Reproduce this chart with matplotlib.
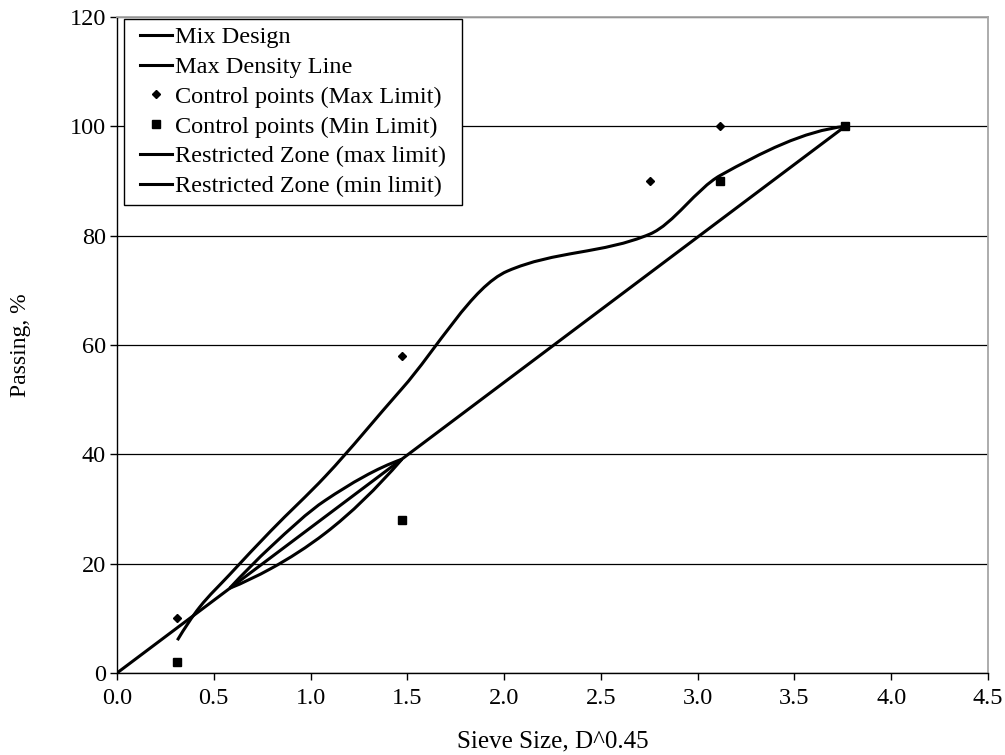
import numpy as np
import matplotlib
matplotlib.use("Agg")
import matplotlib.pyplot as plt
from matplotlib.path import Path
from matplotlib.patches import PathPatch
from matplotlib.lines import Line2D

# ---- data (sieve size raised to 0.45 power vs. percent passing) ----
mix_x = [0.312, 0.426, 0.582, 0.795, 1.077, 1.472, 2.016, 2.754, 3.116, 3.762]
mix_y = [6.0, 12.0, 18.0, 26.0, 36.0, 52.0, 73.5, 80.3, 91.0, 100.0]

mdl_x = [0.0, 3.762]
mdl_y = [0.0, 100.0]

cp_max_x = [0.312, 1.472, 2.754, 3.116]
cp_max_y = [10.0, 58.0, 90.0, 100.0]

cp_min_x = [0.312, 1.472, 3.116, 3.762]
cp_min_y = [2.0, 28.0, 90.0, 100.0]

rz_x = [0.582, 0.795, 1.077, 1.472]
rz_max_y = [15.5, 23.1, 31.6, 39.1]
rz_min_y = [15.5, 19.1, 25.6, 39.1]

x_ticks = [0.0, 0.5, 1.0, 1.5, 2.0, 2.5, 3.0, 3.5, 4.0, 4.5]
y_ticks = [0, 20, 40, 60, 80, 100, 120]

plt.rcParams["font.family"] = ["Liberation Serif", "DejaVu Serif"]


def pchip_slopes(x, y):
    x = np.asarray(x, float)
    y = np.asarray(y, float)
    h = np.diff(x)
    d = np.diff(y) / h
    n = len(x)
    m = np.zeros(n)
    if n == 2:
        m[:] = d[0]
        return m
    for k in range(1, n - 1):
        if d[k - 1] * d[k] <= 0:
            m[k] = 0.0
        else:
            w1 = 2 * h[k] + h[k - 1]
            w2 = h[k] + 2 * h[k - 1]
            m[k] = (w1 + w2) / (w1 / d[k - 1] + w2 / d[k])

    def end(h0, h1, d0, d1):
        s = ((2 * h0 + h1) * d0 - h0 * d1) / (h0 + h1)
        if np.sign(s) != np.sign(d0):
            s = 0.0
        elif np.sign(d0) != np.sign(d1) and abs(s) > abs(3 * d0):
            s = 3 * d0
        return s

    m[0] = end(h[0], h[1], d[0], d[1])
    m[-1] = end(h[-1], h[-2], d[-1], d[-2])
    return m


def smooth_path(x, y):
    m = pchip_slopes(x, y)
    verts = [(x[0], y[0])]
    codes = [Path.MOVETO]
    for i in range(len(x) - 1):
        h = x[i + 1] - x[i]
        verts += [(x[i] + h / 3, y[i] + m[i] * h / 3),
                  (x[i + 1] - h / 3, y[i + 1] - m[i + 1] * h / 3),
                  (x[i + 1], y[i + 1])]
        codes += [Path.CURVE4] * 3
    return Path(verts, codes)


def wide_box(x0, y0, width, height, mutation_size):
    # square legend frame with extra horizontal padding
    padx = 0.37 * mutation_size
    x0, x1 = x0 - padx, x0 + width + padx
    y1 = y0 + height
    return Path([(x0, y0), (x1, y0), (x1, y1), (x0, y1), (x0, y0)],
                closed=True)


fig = plt.figure(figsize=(10.05, 7.55), dpi=100)
ax = fig.add_axes([0.1164, 0.1086, 0.8667, 0.8689])

LW = 2.2
for xs, ys in [(mix_x, mix_y), (rz_x, rz_max_y), (rz_x, rz_min_y)]:
    ax.add_patch(PathPatch(smooth_path(xs, ys), facecolor="none",
                           edgecolor="black", lw=LW, zorder=3))
ax.plot(mdl_x, mdl_y, color="black", lw=LW, zorder=3)
ax.plot(cp_max_x, cp_max_y, linestyle="none", marker="D", ms=4.2,
        color="black", zorder=4)
ax.plot(cp_min_x, cp_min_y, linestyle="none", marker="s", ms=6,
        color="black", zorder=4)

ax.set_xlim(0, 4.5)
ax.set_ylim(0, 120)
ax.set_xticks(x_ticks)
ax.set_xticklabels([f"{v:.1f}" for v in x_ticks])
ax.set_yticks(y_ticks)
ax.set_yticklabels([str(v) for v in y_ticks])
ax.tick_params(axis="both", direction="out", length=5, width=1,
               labelsize=17.5, colors="black", pad=3)
ax.tick_params(axis="x", pad=6)
ax.set_axisbelow(True)
ax.yaxis.grid(True, color="black", lw=0.9)

for s in ["left", "bottom"]:
    ax.spines[s].set_color("black")
    ax.spines[s].set_linewidth(1.0)
for s in ["top", "right"]:
    ax.spines[s].set_color("#a6a6a6")
    ax.spines[s].set_linewidth(1.3)

ax.set_xlabel("Sieve Size, D^0.45", fontsize=18, labelpad=15)
ax.set_ylabel("Passing, %", fontsize=17, labelpad=28)

handles = [
    Line2D([], [], color="black", lw=LW),
    Line2D([], [], color="black", lw=LW),
    Line2D([], [], color="black", marker="D", ms=4.2, linestyle="none"),
    Line2D([], [], color="black", marker="s", ms=6, linestyle="none"),
    Line2D([], [], color="black", lw=LW),
    Line2D([], [], color="black", lw=LW),
]
labels = ["Mix Design", "Max Density Line", "Control points (Max Limit)",
          "Control points (Min Limit)", "Restricted Zone (max limit)",
          "Restricted Zone (min limit)"]
leg = ax.legend(handles, labels, loc="upper left",
                bbox_to_anchor=(0.0185, 0.997), borderaxespad=0,
                fontsize=17.5, frameon=True, fancybox=False, shadow=False,
                handlelength=1.3, handletextpad=0.12, labelspacing=0.32,
                borderpad=0.3, framealpha=1)
leg.get_frame().set_boxstyle(wide_box)
leg.get_frame().set_edgecolor("black")
leg.get_frame().set_linewidth(1.0)

fig.savefig("out.png", dpi=100)
